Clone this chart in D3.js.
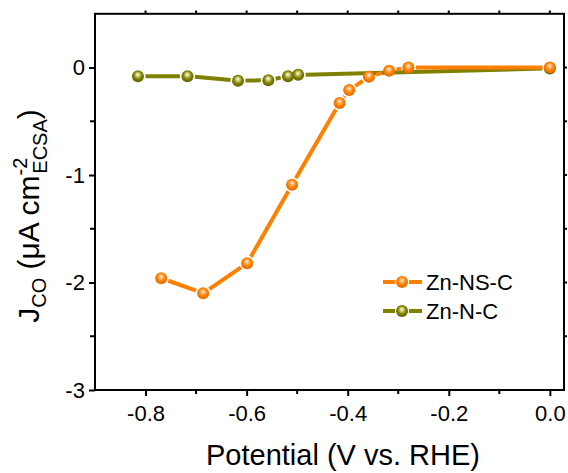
<!DOCTYPE html>
<html>
<head>
<meta charset="utf-8">
<script src="https://cdn.jsdelivr.net/npm/d3@7"></script>
<style>
  html, body { margin: 0; padding: 0; background: #fff; }
  svg { display: block; font-family: "Liberation Sans", Arial, sans-serif; }
</style>
</head>
<body>
<svg id="chart" width="568" height="473"></svg>
<script>
// ---- data ----
const seriesNames = ["Zn-NS-C", "Zn-N-C"];
const potentialNS = [-0.769, -0.686, -0.599, -0.51, -0.416, -0.397, -0.358, -0.318, -0.28, 0.0];
const jcoNS       = [-1.96, -2.10, -1.82, -1.09, -0.33, -0.21, -0.085, -0.03, 0.0, 0.0];
const potentialN  = [-0.815, -0.717, -0.617, -0.557, -0.518, -0.498, 0.0];
const jcoN        = [-0.08, -0.08, -0.122, -0.118, -0.08, -0.068, -0.008];
const xTicks = [-0.8, -0.6, -0.4, -0.2, 0.0];
const xTickLabels = ["-0.8", "-0.6", "-0.4", "-0.2", "0.0"];
const yTicks = [-3, -2, -1, 0];
const yTickLabels = ["-3", "-2", "-1", "0"];

const colors = ["#FF7F00", "#808000"];

const svg = d3.select("#chart");
const x = d3.scaleLinear().domain([-0.9, 0.028]).range([95, 564]);
const y = d3.scaleLinear().domain([-3, 0.5]).range([390, 13.8]);

// gradients for glossy markers
const defs = svg.append("defs");
function grad(id, light, base, dark) {
  const g = defs.append("radialGradient").attr("id", id)
    .attr("cx", "50%").attr("cy", "45%").attr("r", "55%").attr("fx", "48%").attr("fy", "35%");
  g.append("stop").attr("offset", "0%").attr("stop-color", "#ffffff");
  g.append("stop").attr("offset", "22%").attr("stop-color", light);
  g.append("stop").attr("offset", "60%").attr("stop-color", base);
  g.append("stop").attr("offset", "100%").attr("stop-color", dark);
}
grad("gOrange", "#FFC080", "#FF8000", "#E06A00");
grad("gOlive", "#D8D890", "#858500", "#5E5E00");
const fills = ["url(#gOrange)", "url(#gOlive)"];

const R = 6;
function drawSeries(xs, ys, color, fill) {
  const pts = xs.map((v, i) => [x(v), y(ys[i])]);
  const g = svg.append("g");
  for (let i = 0; i < pts.length - 1; i++) {
    const [x1, y1] = pts[i], [x2, y2] = pts[i + 1];
    const dx = x2 - x1, dy = y2 - y1, L = Math.hypot(dx, dy);
    const gap = R + 1.5;
    if (L <= 2 * gap) continue;
    const ux = dx / L, uy = dy / L;
    g.append("line")
      .attr("x1", x1 + ux * gap).attr("y1", y1 + uy * gap)
      .attr("x2", x2 - ux * gap).attr("y2", y2 - uy * gap)
      .attr("stroke", color).attr("stroke-width", 4);
  }
  g.selectAll("circle").data(pts).enter().append("circle")
    .attr("cx", d => d[0]).attr("cy", d => d[1]).attr("r", R)
    .attr("fill", fill);
}
drawSeries(potentialN, jcoN, colors[1], fills[1]);
drawSeries(potentialNS, jcoNS, colors[0], fills[0]);

// axes
const xAxis = svg.append("g").attr("transform", "translate(0,390)")
  .call(d3.axisBottom(x).tickValues(xTicks).tickFormat((d, i) => xTickLabels[i]).tickSize(6).tickSizeOuter(0));
const yAxis = svg.append("g").attr("transform", "translate(95,0)")
  .call(d3.axisLeft(y).tickValues(yTicks).tickFormat((d, i) => yTickLabels[i]).tickSize(6).tickSizeOuter(0));
[xAxis, yAxis].forEach(a => {
  a.select(".domain").remove();
  a.selectAll("line").attr("stroke", "#000").attr("stroke-width", 2);
  a.selectAll("text").attr("font-size", 22).attr("fill", "#000").attr("font-family", "'Liberation Sans', Arial, sans-serif");
});
xAxis.selectAll("text").attr("dy", "0.98em");
yAxis.selectAll("text").attr("dx", "-0.05em");

// minor ticks
const xMinor = [-0.7, -0.5, -0.3, -0.1];
svg.append("g").selectAll("line").data(xMinor).enter().append("line")
  .attr("x1", d => x(d)).attr("x2", d => x(d)).attr("y1", 390).attr("y2", 394)
  .attr("stroke", "#000").attr("stroke-width", 2);
const yMinor = [-2.5, -1.5, -0.5];
svg.append("g").selectAll("line").data(yMinor).enter().append("line")
  .attr("y1", d => y(d)).attr("y2", d => y(d)).attr("x1", 95).attr("x2", 90)
  .attr("stroke", "#000").attr("stroke-width", 2);
// top ticks (every 0.1) and right ticks (every 0.5)
const topT = d3.range(-8, 1).map(k => k / 10);
svg.append("g").selectAll("line").data(topT).enter().append("line")
  .attr("x1", d => x(d)).attr("x2", d => x(d)).attr("y1", 13.8).attr("y2", 10.5)
  .attr("stroke", "#000").attr("stroke-width", 2);
const rightT = [-2.5, -2, -1.5, -1, -0.5, 0];
svg.append("g").selectAll("line").data(rightT).enter().append("line")
  .attr("y1", d => y(d)).attr("y2", d => y(d)).attr("x1", 564).attr("x2", 567)
  .attr("stroke", "#000").attr("stroke-width", 2);

// frame
svg.append("rect").attr("x", 95).attr("y", 13.8).attr("width", 469).attr("height", 376.2)
  .attr("fill", "none").attr("stroke", "#000").attr("stroke-width", 2);

// x title
svg.append("text").attr("x", 343).attr("y", 465).attr("text-anchor", "middle")
  .attr("font-size", 29).attr("fill", "#000").text("Potential (V vs. RHE)");

// y title
const yt = svg.append("text").attr("transform", "translate(39,216) rotate(-90)")
  .attr("text-anchor", "middle").attr("font-size", 30).attr("fill", "#000");
yt.append("tspan").text("J");
yt.append("tspan").attr("font-size", 20).attr("dy", 7).text("CO");
yt.append("tspan").attr("dy", -7).text(" (μA cm");
yt.append("tspan").attr("font-size", 20).attr("dy", -12).text("-2");
yt.append("tspan").attr("font-size", 20).attr("dx", -16).attr("dy", 20).text("ECSA");
yt.append("tspan").attr("dy", -8).text(")");

// legend
const legend = svg.append("g");
const legY = [282, 311];
seriesNames.forEach((name, i) => {
  const gy = legY[i];
  legend.append("line").attr("x1", 383).attr("x2", 395).attr("y1", gy).attr("y2", gy)
    .attr("stroke", colors[i]).attr("stroke-width", 4);
  legend.append("line").attr("x1", 409).attr("x2", 422).attr("y1", gy).attr("y2", gy)
    .attr("stroke", colors[i]).attr("stroke-width", 4);
  legend.append("circle").attr("cx", 402).attr("cy", gy).attr("r", R).attr("fill", fills[i]);
  legend.append("text").attr("x", 426).attr("y", gy + 8).attr("font-size", 22).attr("fill", "#000").text(name);
});
</script>
</body>
</html>
